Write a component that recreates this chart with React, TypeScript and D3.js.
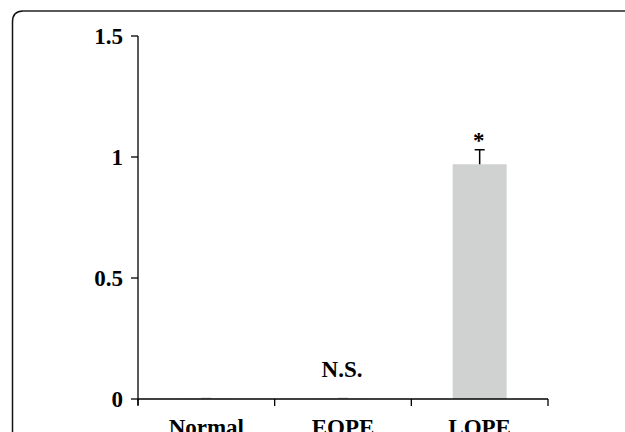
import React from "react";
import * as d3 from "d3";

const categories = ["Normal", "EOPE", "LOPE"];
const values = [0.001, 0.001, 0.97];
const errors = [0.002, 0.002, 0.06];
const annotations = ["", "N.S.", "*"];
const yTicks = [0, 0.5, 1, 1.5];

const W = 625;
const H = 432;

export default function App() {
  const x0 = 138, x1 = 548;
  const yBottom = 399, yTop = 36;
  const x = d3.scaleBand<string>().domain(categories).range([x0, x1]).paddingInner(0).paddingOuter(0);
  const y = d3.scaleLinear().domain([0, 1.5]).range([yBottom, yTop]);
  const barW = 54;
  const font = "'Liberation Serif', 'Times New Roman', serif";
  return (
    <svg width={W} height={H} style={{ position: "absolute", left: 0, top: 0, background: "#fff" }}>
      {/* frame */}
      <path d={`M12.5,${H + 5} L12.5,22 Q12.5,11 23,11`} fill="none" stroke="#111" strokeWidth={1.5} />
      <path d={`M23,11 L${W + 5},11`} fill="none" stroke="#5a5a5a" strokeWidth={2} />

      {/* bars */}
      {categories.map((c, i) => {
        const cx = (x(c) as number) + x.bandwidth() / 2;
        const col = i === 2 ? "#000" : "#ccc";
        return (
          <g key={c}>
            <rect x={cx - barW / 2} y={y(values[i])} width={barW} height={yBottom - y(values[i])} fill="#d0d2d1" />
            <line x1={cx} x2={cx} y1={y(values[i])} y2={y(values[i] + errors[i])} stroke={col} strokeWidth={1.5} />
            <line x1={cx - 5} x2={cx + 5} y1={y(values[i] + errors[i])} y2={y(values[i] + errors[i])} stroke={col} strokeWidth={1.5} />
          </g>
        );
      })}

      {/* y axis */}
      <line x1={x0} x2={x0} y1={yTop} y2={yBottom + 6} stroke="#000" strokeWidth={1.3} />
      {yTicks.map((t) => (
        <g key={t}>
          <line x1={x0 - 7} x2={x0} y1={y(t)} y2={y(t)} stroke="#000" strokeWidth={1.3} />
          <text x={x0 - 15} y={y(t)} dy="0.35em" textAnchor="end" fontFamily={font} fontWeight="bold" fontSize={23}>
            {String(t)}
          </text>
        </g>
      ))}

      {/* x axis */}
      <line x1={x0} x2={x1} y1={yBottom} y2={yBottom} stroke="#000" strokeWidth={1.3} />
      {[...categories.map((c) => x(c) as number), x1].map((p, i) => (
        <line key={i} x1={p} x2={p} y1={yBottom} y2={yBottom + 7} stroke="#000" strokeWidth={1.3} />
      ))}
      {categories.map((c) => (
        <text key={c} x={(x(c) as number) + x.bandwidth() / 2} y={435} textAnchor="middle" fontFamily={font} fontWeight="bold" fontSize={23}>
          {c}
        </text>
      ))}

      {/* annotations */}
      {categories.map((c, i) => {
        const cx = (x(c) as number) + x.bandwidth() / 2;
        if (!annotations[i]) return null;
        const yy = i === 2 ? y(values[i] + errors[i]) - 2 : 377;
        return (
          <text key={c + "a"} x={cx - 1} y={yy} textAnchor="middle" fontFamily={font} fontWeight="bold" fontSize={23}>
            {annotations[i]}
          </text>
        );
      })}
    </svg>
  );
}
